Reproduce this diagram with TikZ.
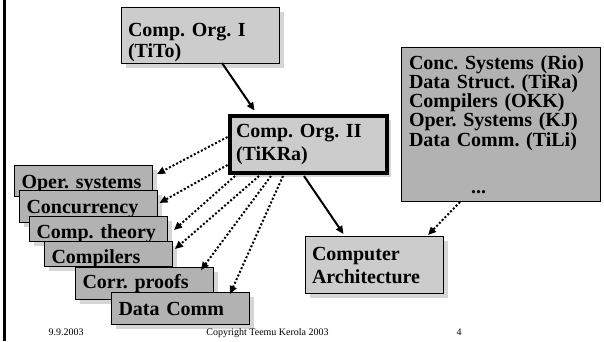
\documentclass[tikz,border=0pt]{standalone}
\usepackage{fontspec}
\setmainfont{Liberation Serif}
\usepackage{tikz}
\usetikzlibrary{arrows.meta,shadows}
\usepackage{xcolor}
\definecolor{course}{RGB}{204,204,204}
\definecolor{other}{RGB}{178,178,178}
\definecolor{shade}{RGB}{214,214,214}
\frenchspacing
\hyphenpenalty=10000
\exhyphenpenalty=10000

\tikzset{
  box/.style={draw, anchor=base west, inner ysep=0pt, outer sep=0pt, align=left,
    font=\bfseries\fontsize{20}{#1}\selectfont},
  shadowed/.style={drop shadow={shadow xshift=4.5pt, shadow yshift=-4.5pt, fill=shade, opacity=1}},
  stackbox/.style={box=20, fill=other, shadowed, inner xsep=7.5pt, text width=123pt},
  hd/.style 2 args={text height=#1pt, text depth=#2pt},
  solidarrow/.style={line width=2pt, -{Triangle[length=8pt,width=7pt]}},
  dotarrow/.style={line width=2pt, dash pattern=on 2pt off 2pt,
    -{Triangle[length=8pt,width=7pt]}},
  footer/.style={anchor=base, font=\fontsize{10}{12}\selectfont}
}

\begin{document}
\begin{tikzpicture}[x=1pt, y=-1pt]
  \useasboundingbox (0,0) rectangle (604,341);
  \draw[line width=2.7pt] (4.7,0) -- (4.7,341);

  \node[box=21, fill=course, shadowed, inner xsep=7pt, text width=144pt, hd={29.5}{26.5}]
    (org1) at (121,36.5) {Comp. Org. I\\(TiTo)};
  \node[box=23, fill=course, shadowed, line width=4pt, inner xsep=6.5pt, text width=144pt, hd={21.5}{35.5}]
    (org2) at (229.5,137) {Comp. Org. II\\(TiKRa)};
  \node[box=19.25, fill=other, inner xsep=8pt, text width=183pt, hd={21.5}{132.5}]
    (others) at (401,69) {Conc. Systems (Rio)\\Data Struct. (TiRa)\\Compilers (OKK)\\Oper. Systems (KJ)\\Data Comm. (TiLi)\\[27.75pt]\hspace*{62pt}...};
  \node[box=23, fill=course, shadowed, inner xsep=7pt, text width=124pt, hd={24.7}{32.3}]
    (arch) at (305,260.7) {Computer\\Architecture};

  % courses that use it
  \node[stackbox, hd={23}{8}] (opsys) at (14,188) {Oper. systems};
  \node[stackbox, hd={23}{9}] (conc) at (19,213) {Concurrency};
  \node[stackbox, hd={22}{3}] (theory) at (29,238) {Comp. theory};
  \node[stackbox, hd={22}{3}, text width=113pt] (comp) at (44,263) {Compilers};
  \node[stackbox, hd={21}{11}] (proofs) at (75,288) {Corr. proofs};
  \node[stackbox, hd={23}{9}] (dcomm) at (111,315) {Data Comm};

  \draw[solidarrow] ([shift={(101,0)}]org1.south west) -- ([shift={(25,-5)}]org2.north west);
  \draw[solidarrow] ([shift={(-4,3.5)}]org2.south) -- ([shift={(38.5,-2)}]arch.north west);
  \draw[dotarrow] ([shift={(59,0.5)}]others.south west) -- ([shift={(-15,-1)}]arch.north east);

  \draw[dotarrow] ([shift={(-2,21.5)}]org2.north west) -- ([shift={(5,9)}]opsys.north east);
  \draw[dotarrow] ([shift={(-2,49.5)}]org2.north west) -- ([shift={(2.5,13)}]conc.north east);
  \draw[dotarrow] ([shift={(5.5,3.5)}]org2.south west) -- ([shift={(7,14)}]theory.north east);
  \draw[dotarrow] ([shift={(29.5,3.5)}]org2.south west) -- ([shift={(3,8)}]comp.north east);
  \draw[dotarrow] ([shift={(41.5,3.5)}]org2.south west) -- ([shift={(-12,3)}]proofs.north east);
  \draw[dotarrow] ([shift={(53.5,3.5)}]org2.south west) -- ([shift={(-19,2)}]dcomm.north east);

  \node[footer] (date) at (66,335) {9.9.2003};
  \node[footer] (copy) at (267.5,335) {Copyright Teemu Kerola 2003};
  \node[footer] (page) at (459,335) {4};
\end{tikzpicture}
\end{document}
